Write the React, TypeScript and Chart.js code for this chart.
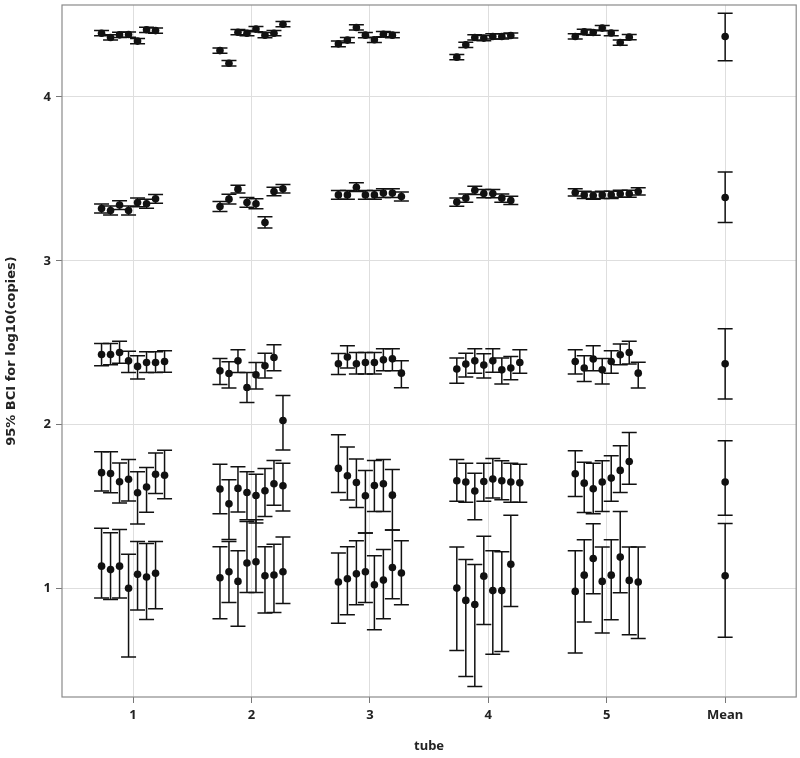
import React, { useEffect, useRef } from "react";
import { Chart, registerables } from "chart.js";

Chart.register(...registerables);

// Category labels on the x axis (1..5 are tubes, 6 is the overall mean)
const xLabels = ["1", "2", "3", "4", "5", "Mean"];
const xTickValues = [1, 2, 3, 4, 5, 6];
const yTickValues = [1, 2, 3, 4];

// Each level: rows = tubes 1..5, columns = replicate slots 0..7 (null = absent)
// Level ~4.4
const l5Mid = [
  [4.388, 4.362, 4.378, 4.380, 4.340, 4.409, 4.404, null],
  [4.282, 4.205, 4.394, 4.388, 4.413, 4.376, 4.388, 4.443],
  [4.323, 4.346, 4.423, 4.376, 4.348, 4.382, 4.376, null],
  [4.242, 4.317, 4.362, 4.358, 4.368, 4.368, 4.374, null],
  [4.368, 4.396, 4.392, 4.419, 4.389, 4.331, 4.364, null],
];
const l5Lo = [
  [4.372, 4.346, 4.362, 4.364, 4.324, 4.393, 4.388, null],
  [4.266, 4.188, 4.378, 4.372, 4.397, 4.360, 4.372, 4.427],
  [4.306, 4.330, 4.407, 4.360, 4.332, 4.366, 4.360, null],
  [4.226, 4.301, 4.346, 4.342, 4.352, 4.352, 4.358, null],
  [4.352, 4.380, 4.376, 4.403, 4.373, 4.315, 4.348, null],
];
const l5Hi = [
  [4.404, 4.378, 4.394, 4.396, 4.356, 4.425, 4.420, null],
  [4.298, 4.222, 4.410, 4.404, 4.429, 4.392, 4.404, 4.459],
  [4.340, 4.362, 4.439, 4.392, 4.364, 4.398, 4.392, null],
  [4.258, 4.333, 4.378, 4.374, 4.384, 4.384, 4.390, null],
  [4.384, 4.412, 4.408, 4.435, 4.405, 4.347, 4.380, null],
];

// Level ~3.4
const l4Mid = [
  [3.319, 3.307, 3.340, 3.307, 3.356, 3.348, 3.378, null],
  [3.331, 3.376, 3.437, 3.356, 3.348, 3.234, 3.423, 3.439],
  [3.402, 3.402, 3.449, 3.402, 3.402, 3.413, 3.413, 3.392],
  [3.358, 3.382, 3.430, 3.410, 3.410, 3.382, 3.368, null],
  [3.417, 3.402, 3.398, 3.402, 3.402, 3.409, 3.409, 3.423],
];
const l4Lo = [
  [3.292, 3.280, 3.313, 3.280, 3.329, 3.321, 3.351, null],
  [3.300, 3.346, 3.413, 3.326, 3.318, 3.200, 3.397, 3.413],
  [3.375, 3.375, 3.422, 3.375, 3.375, 3.386, 3.386, 3.365],
  [3.333, 3.357, 3.405, 3.385, 3.385, 3.357, 3.343, null],
  [3.395, 3.380, 3.376, 3.380, 3.380, 3.387, 3.387, 3.401],
];
const l4Hi = [
  [3.346, 3.334, 3.367, 3.334, 3.383, 3.375, 3.405, null],
  [3.362, 3.406, 3.461, 3.386, 3.378, 3.268, 3.449, 3.465],
  [3.429, 3.429, 3.476, 3.429, 3.429, 3.440, 3.440, 3.419],
  [3.383, 3.407, 3.455, 3.435, 3.435, 3.407, 3.393, null],
  [3.439, 3.424, 3.420, 3.424, 3.424, 3.431, 3.431, 3.445],
];

// Level ~2.4
const l3Mid = [
  [2.429, 2.429, 2.441, 2.390, 2.356, 2.380, 2.380, 2.386],
  [2.329, 2.313, 2.390, 2.227, 2.305, 2.360, 2.410, 2.026],
  [2.372, 2.413, 2.372, 2.380, 2.380, 2.396, 2.402, 2.315],
  [2.340, 2.370, 2.390, 2.364, 2.390, 2.335, 2.346, 2.380],
  [2.386, 2.346, 2.401, 2.335, 2.386, 2.427, 2.441, 2.315],
];
const l3Lo = [
  [2.360, 2.366, 2.376, 2.319, 2.279, 2.319, 2.319, 2.321],
  [2.246, 2.224, 2.319, 2.136, 2.218, 2.285, 2.329, 1.846],
  [2.307, 2.346, 2.309, 2.309, 2.309, 2.329, 2.329, 2.226],
  [2.254, 2.291, 2.315, 2.285, 2.321, 2.248, 2.274, 2.315],
  [2.309, 2.264, 2.329, 2.248, 2.315, 2.366, 2.370, 2.224],
];
const l3Hi = [
  [2.496, 2.496, 2.510, 2.449, 2.421, 2.445, 2.445, 2.451],
  [2.404, 2.384, 2.457, 2.319, 2.380, 2.437, 2.488, 2.179],
  [2.435, 2.482, 2.441, 2.441, 2.441, 2.463, 2.463, 2.390],
  [2.407, 2.437, 2.463, 2.433, 2.463, 2.407, 2.417, 2.457],
  [2.457, 2.421, 2.482, 2.404, 2.451, 2.492, 2.510, 2.382],
];

// Level ~1.7
const l2Mid = [
  [1.708, 1.703, 1.653, 1.668, 1.586, 1.621, 1.698, 1.692],
  [1.608, 1.518, 1.612, 1.587, 1.569, 1.598, 1.640, 1.628],
  [1.734, 1.689, 1.648, 1.567, 1.630, 1.640, 1.571, null],
  [1.659, 1.651, 1.596, 1.654, 1.669, 1.659, 1.651, 1.646],
  [1.701, 1.644, 1.610, 1.651, 1.675, 1.722, 1.776, null],
];
const l2Lo = [
  [1.597, 1.586, 1.523, 1.536, 1.395, 1.467, 1.581, 1.549],
  [1.457, 1.300, 1.468, 1.421, 1.401, 1.441, 1.510, 1.474],
  [1.587, 1.541, 1.496, 1.340, 1.471, 1.471, 1.358, null],
  [1.533, 1.527, 1.421, 1.533, 1.553, 1.543, 1.527, 1.527],
  [1.563, 1.465, 1.457, 1.471, 1.533, 1.587, 1.638, null],
];
const l2Hi = [
  [1.836, 1.836, 1.767, 1.788, 1.714, 1.740, 1.828, 1.844],
  [1.760, 1.665, 1.744, 1.713, 1.699, 1.734, 1.782, 1.766],
  [1.939, 1.864, 1.791, 1.722, 1.782, 1.788, 1.728, null],
  [1.789, 1.766, 1.705, 1.766, 1.795, 1.780, 1.766, 1.760],
  [1.841, 1.772, 1.766, 1.780, 1.811, 1.872, 1.953, null],
];

// Level ~1.1
const l1Mid = [
  [1.138, 1.117, 1.138, 1.003, 1.088, 1.072, 1.095, null],
  [1.067, 1.104, 1.045, 1.157, 1.165, 1.079, 1.084, 1.104],
  [1.041, 1.061, 1.091, 1.104, 1.024, 1.053, 1.130, 1.096],
  [1.004, 0.929, 0.904, 1.077, 0.989, 0.989, 1.150, null],
  [0.984, 1.083, 1.185, 1.045, 1.083, 1.193, 1.051, 1.041],
];
const l1Lo = [
  [0.944, 0.934, 0.944, 0.584, 0.870, 0.812, 0.878, null],
  [0.817, 0.917, 0.772, 0.978, 0.978, 0.852, 0.856, 0.910],
  [0.789, 0.841, 0.902, 0.917, 0.750, 0.817, 0.939, 0.902],
  [0.624, 0.465, 0.404, 0.782, 0.601, 0.618, 0.892, null],
  [0.608, 0.797, 0.970, 0.730, 0.811, 0.976, 0.720, 0.697],
];
const l1Hi = [
  [1.369, 1.342, 1.361, 1.210, 1.289, 1.276, 1.289, null],
  [1.256, 1.289, 1.232, 1.411, 1.421, 1.256, 1.272, 1.315],
  [1.218, 1.256, 1.293, 1.340, 1.201, 1.240, 1.358, 1.293],
  [1.254, 1.179, 1.148, 1.321, 1.232, 1.226, 1.449, null],
  [1.232, 1.299, 1.396, 1.254, 1.299, 1.471, 1.254, 1.254],
];

// Overall mean per level (levels 1..5)
const meanMid = [1.079, 1.651, 2.372, 3.386, 4.368];
const meanLo = [0.705, 1.449, 2.157, 3.234, 4.220];
const meanHi = [1.398, 1.902, 2.585, 3.541, 4.510];

type Pt = { x: number; y: number; lo: number; hi: number };

const DODGE = 0.076;

function buildPoints(): Pt[] {
  const levels = [
    [l1Mid, l1Lo, l1Hi],
    [l2Mid, l2Lo, l2Hi],
    [l3Mid, l3Lo, l3Hi],
    [l4Mid, l4Lo, l4Hi],
    [l5Mid, l5Lo, l5Hi],
  ];
  const pts: Pt[] = [];
  levels.forEach(([mid, lo, hi]) => {
    mid.forEach((row, t) => {
      row.forEach((v, k) => {
        if (v === null) return;
        pts.push({
          x: xTickValues[t] + (k - 3.5) * DODGE,
          y: v as number,
          lo: lo[t][k] as number,
          hi: hi[t][k] as number,
        });
      });
    });
  });
  meanMid.forEach((v, i) => {
    pts.push({ x: xTickValues[5], y: v, lo: meanLo[i], hi: meanHi[i] });
  });
  return pts;
}

const FONT = "'Noto Sans', 'DejaVu Sans', sans-serif";
const TITLE_FONT = "'DejaVu Sans', 'Noto Sans', sans-serif";

export default function App() {
  const ref = useRef<HTMLCanvasElement | null>(null);

  useEffect(() => {
    document.body.style.margin = "0";
    const canvas = ref.current;
    if (!canvas) return;
    const pts = buildPoints();

    const framePlugin = {
      id: "frame",
      beforeDatasetsDraw(chart: any) {
        const { ctx, scales } = chart;
        const xs = scales.x;
        const ys = scales.y;
        ctx.save();
        ctx.strokeStyle = "#111";
        ctx.lineWidth = 1.5;
        const cap = 7.5;
        pts.forEach((p) => {
          const px = xs.getPixelForValue(p.x);
          const top = ys.getPixelForValue(p.hi);
          const bot = ys.getPixelForValue(p.lo);
          ctx.beginPath();
          ctx.moveTo(px, top);
          ctx.lineTo(px, bot);
          ctx.moveTo(px - cap, top);
          ctx.lineTo(px + cap, top);
          ctx.moveTo(px - cap, bot);
          ctx.lineTo(px + cap, bot);
          ctx.stroke();
        });
        ctx.restore();
      },
      afterDraw(chart: any) {
        const { ctx, chartArea: a } = chart;
        ctx.save();
        ctx.strokeStyle = "#8a8a8a";
        ctx.lineWidth = 1.2;
        ctx.strokeRect(a.left, a.top, a.right - a.left, a.bottom - a.top);
        ctx.restore();
      },
    };

    const chart = new Chart(canvas, {
      type: "scatter",
      data: {
        datasets: [
          {
            data: pts.map((p) => ({ x: p.x, y: p.y })),
            backgroundColor: "#111",
            borderColor: "#111",
            borderWidth: 0,
            pointRadius: 3.8,
            pointHoverRadius: 3.8,
          },
        ],
      },
      options: {
        responsive: false,
        animation: false,
        events: [],
        layout: { padding: { left: 0, top: 5, right: 3, bottom: 0 } },
        plugins: {
          legend: { display: false },
          tooltip: { enabled: false },
        },
        scales: {
          x: {
            type: "linear",
            min: 0.4,
            max: 6.6,
            afterBuildTicks: (axis: any) => {
              axis.ticks = xTickValues.map((v) => ({ value: v }));
            },
            afterFit: (axis: any) => {
              axis.height = 61;
              axis.paddingLeft = 0;
              axis.paddingRight = 0;
            },
            grid: {
              color: "#dedede",
              lineWidth: 1,
              drawTicks: true,
              tickLength: 6,
              tickColor: "#777",
            },
            border: { display: false },
            ticks: {
              autoSkip: false,
              maxRotation: 0,
              padding: 4,
              color: "#222",
              font: { family: FONT, size: 13, weight: "bold" },
              callback: (v: any) => xLabels[Math.round(Number(v)) - 1] ?? "",
            },
            title: {
              display: true,
              text: "tube",
              color: "#222",
              font: { family: FONT, size: 13, weight: "bold" },
              padding: { top: 4, bottom: 4 },
            },
          },
          y: {
            type: "linear",
            min: 0.34,
            max: 4.56,
            afterBuildTicks: (axis: any) => {
              axis.ticks = yTickValues.map((v) => ({ value: v }));
            },
            afterFit: (axis: any) => {
              axis.width = 62;
              axis.paddingTop = 0;
              axis.paddingBottom = 0;
            },
            grid: {
              color: "#dedede",
              lineWidth: 1,
              drawTicks: true,
              tickLength: 6,
              tickColor: "#777",
            },
            border: { display: false },
            ticks: {
              padding: 5,
              color: "#222",
              font: { family: FONT, size: 13, weight: "bold" },
              callback: (v: any) => String(v),
            },
            title: {
              display: true,
              text: "95% BCI for log10(copies)",
              color: "#222",
              font: { family: TITLE_FONT, size: 13, weight: "bold" },
              padding: { top: 4, bottom: 4 },
            },
          },
        },
      },
      plugins: [framePlugin],
    });

    return () => {
      chart.destroy();
    };
  }, []);

  return (
    <div style={{ width: 800, height: 758 }}>
      <canvas ref={ref} width={800} height={758} style={{ display: "block" }} />
    </div>
  );
}
